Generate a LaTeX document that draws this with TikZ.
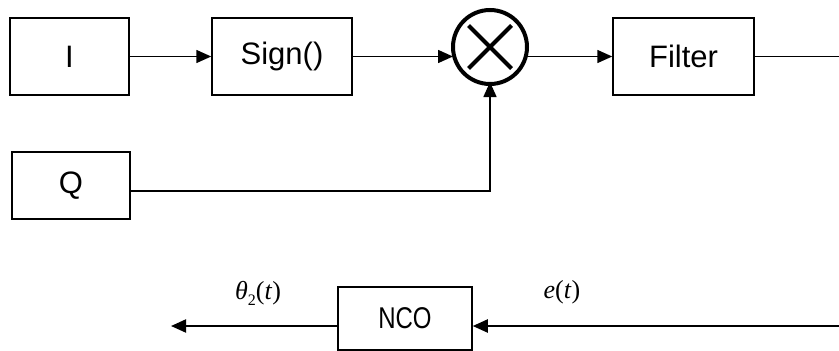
\documentclass[tikz,border=0pt]{standalone}
\usepackage{fontspec}
\setmainfont{Liberation Sans}
\newfontfamily\tnr{Liberation Serif}
\usetikzlibrary{arrows.meta,calc}
\begin{document}
\begin{tikzpicture}[x=1pt,y=-1pt,
  blk/.style={draw,line width=1.5pt,rectangle,inner sep=0pt,font=\fontsize{31}{36}\selectfont},
  conn/.style={line width=1.6pt,-{Triangle[length=15pt,width=13pt]}},
  plain/.style={line width=1.6pt},
  lbl/.style={font=\tnr\fontsize{26}{30}\selectfont}]
\useasboundingbox (0,0) rectangle (839,351);
\node[blk,minimum width=119pt,minimum height=77pt] (I) at (69.5,56.5) {I};
\node[blk,minimum width=140pt,minimum height=77pt] (S) at (282,56.5) {Sign()};
\node[blk,minimum width=141pt,minimum height=77pt] (F) at (683.5,56.5) {Filter};
\node[blk,minimum width=118pt,minimum height=67pt] (Q) at (71,185.5) {Q};
\node[draw,circle,line width=4pt,minimum size=74pt,inner sep=0pt,outer sep=0pt] (M) at (490,47) {};
\draw[line width=4pt] ($(M)+(-21.5,-21.5)$) -- ($(M)+(21.5,21.5)$);
\draw[line width=4pt] ($(M)+(21.5,-21.5)$) -- ($(M)+(-21.5,21.5)$);
\node[blk,minimum width=134pt,minimum height=63pt,font=\fontsize{30}{34}\selectfont] (N) at (405,318.5) {\scalebox{0.8}[1]{NCO}};
\coordinate (FE) at (839,56.5);
\coordinate (NE) at (839,326);
\coordinate (NW) at (171,326);
\coordinate (QO) at (130,191);
\coordinate (MQ) at (490,191);
\draw[conn] (I.east) -- (S.west);
\draw[conn] (S.east) -- (S.east -| M.west);
\draw[conn] ($(M.east)+(0,9.5)$) -- (F.west |- S.east);
\draw[plain] (F.east) -- (FE);
\draw[conn] (QO) -- (MQ) -- ($(M.south)+(0,-2)$);
\draw[conn,line width=2pt] (NE) -- (N.east |- NE);
\draw[conn,line width=2pt] (N.west |- NW) -- (NW);
\node[lbl] (th) at (258,293) {\textit{θ}\raisebox{-6pt}{\fontsize{16}{18}\selectfont 2}(\textit{t})};
\node[lbl] (et) at (562,292) {\textit{e}(\textit{t})};
\end{tikzpicture}
\end{document}
